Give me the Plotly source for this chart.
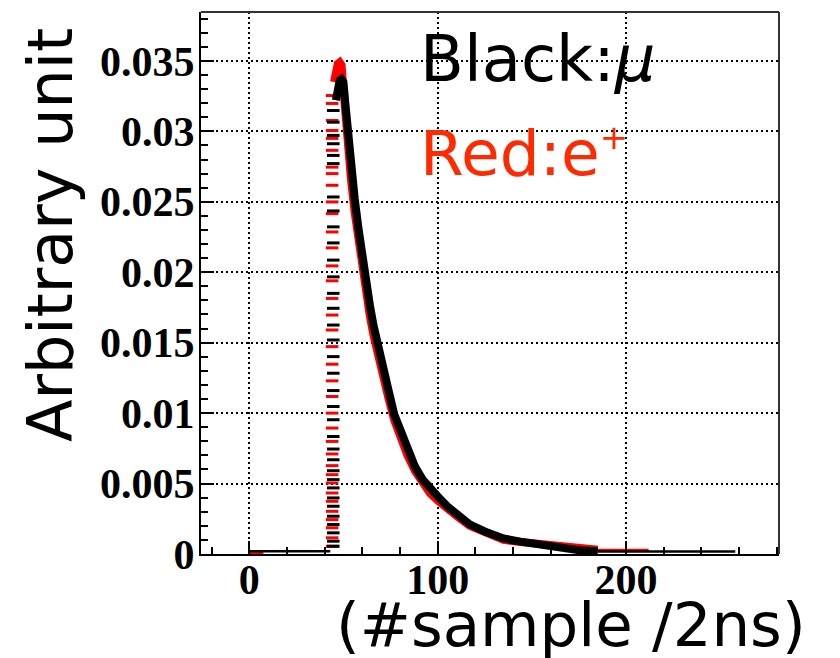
import plotly.graph_objects as go

# ---- averaged pulse shapes (arbitrary units) vs. sample number ----
# leading edge: both pulses rise within a single sample
rise_sample_mu = 44.6
rise_sample_e = 44.0
rise_mu = [0.00055, 0.00091, 0.00150, 0.00209, 0.00268, 0.00339, 0.00398, 0.00469,
           0.00528, 0.00591, 0.00669, 0.00745, 0.00834, 0.00953, 0.01047, 0.01160,
           0.01283, 0.01401, 0.01519, 0.01625, 0.01744, 0.01850, 0.01967, 0.02086,
           0.02208, 0.02322, 0.02435, 0.02534, 0.02771, 0.02829, 0.02912, 0.02971,
           0.03065, 0.03148]
rise_e = [0.00055, 0.00115, 0.00186, 0.00244, 0.00303, 0.00374, 0.00433, 0.00504,
          0.00563, 0.00627, 0.00710, 0.00799, 0.00894, 0.01000, 0.01118, 0.01229,
          0.01347, 0.01472, 0.01590, 0.01696, 0.01814, 0.01939, 0.02045, 0.02173,
          0.02286, 0.02416, 0.02499, 0.02617, 0.02700, 0.02746, 0.02865, 0.02950,
          0.03006, 0.03077, 0.03198, 0.03254]

# peak and decay
decay_x_mu = [46, 47, 48, 49, 50, 51, 52, 53, 54, 56, 58, 60, 62, 64, 66, 68, 70, 72, 74,
              77, 80, 84, 88, 92, 96, 100, 105, 110, 117, 125, 135, 144, 150, 157, 163,
              168, 175, 185]
decay_mu = [0.0322, 0.0331, 0.0336, 0.0337, 0.0335, 0.0320, 0.0303, 0.0290, 0.0278,
            0.0252, 0.0231, 0.0211, 0.0193, 0.0177, 0.0162, 0.0149, 0.0137, 0.0126,
            0.0116, 0.0099, 0.0088, 0.0074, 0.0062, 0.0053, 0.0046, 0.0041, 0.0034,
            0.0029, 0.0021, 0.0016, 0.0011, 0.00088, 0.00076, 0.00066, 0.00048,
            0.00038, 0.00027, 0.00019]
decay_x_e = [45, 46, 47, 48, 49, 50, 51, 52, 54, 56, 58, 60, 62, 64, 66, 68, 70, 72, 74,
             77, 80, 84, 88, 92, 96, 100, 105, 110, 117, 125, 135, 144, 150, 157, 163,
             168, 175, 185]
decay_e = [0.0335, 0.0344, 0.0348, 0.0349, 0.0347, 0.0330, 0.0310, 0.0294, 0.0266,
           0.0242, 0.0221, 0.0202, 0.0185, 0.0169, 0.0155, 0.0142, 0.0130, 0.0120,
           0.0110, 0.0095, 0.0083, 0.0070, 0.0059, 0.0050, 0.0043, 0.0038, 0.0032,
           0.0027, 0.0020, 0.0015, 0.0010, 0.00085, 0.00078, 0.00070, 0.00055,
           0.00045, 0.00038, 0.00030]

# pedestal before the pulse and the far tail
base_x_mu = [0, 43]
base_mu = [0.0002, 0.0002]
tail_x_mu = [185, 258]
tail_mu = [0.00018, 0.00018]
base_x_e = [0, 7.5]
base_e = [0.00005, 0.00005]
tail_x_e = [185, 212]
tail_e = [0.00028, 0.00028]

x_ticks = [0, 100, 200]
x_tick_text = ["0", "100", "200"]
y_ticks = [0, 0.005, 0.01, 0.015, 0.02, 0.025, 0.03, 0.035]
y_tick_text = ["0", "0.005", "0.01", "0.015", "0.02", "0.025", "0.03", "0.035"]

BLACK = "#000000"
RED = "#ff0000"
TEXT_RED = "#ff2a00"

W, H = 840, 658
L, R, T, B = 201, 61, 12, 104


def px(xp, yp):
    """pixel position -> paper coordinates"""
    return (xp - L) / (W - L - R), (H - B - yp) / (H - T - B)


fig = go.Figure()


def add_pulse(rx, ry, dx, dy, bx, by, tx, ty, color):
    fig.add_trace(go.Scatter(x=bx, y=by, mode="lines",
                             line=dict(color=color, width=2.5), hoverinfo="skip"))
    fig.add_trace(go.Scatter(x=tx, y=ty, mode="lines",
                             line=dict(color=color, width=2.5), hoverinfo="skip"))
    fig.add_trace(go.Scatter(x=[rx] * len(ry), y=ry, mode="markers",
                             marker=dict(symbol="line-ew", size=9,
                                         line=dict(color=color, width=3)),
                             hoverinfo="skip"))
    fig.add_trace(go.Scatter(x=dx, y=dy, mode="lines",
                             line=dict(color=color, width=8), hoverinfo="skip"))


add_pulse(rise_sample_e, rise_e, decay_x_e, decay_e, base_x_e, base_e,
          tail_x_e, tail_e, RED)
add_pulse(rise_sample_mu, rise_mu, decay_x_mu, decay_mu, base_x_mu, base_mu,
          tail_x_mu, tail_mu, BLACK)

tick_font = dict(family="Liberation Serif", size=42, color="black", weight="bold")
grid = dict(showgrid=True, gridcolor="black", gridwidth=1.5, griddash="1.5px,3.5px")

fig.update_xaxes(range=[-25.6, 281.2], tickvals=x_ticks, ticktext=x_tick_text,
                 ticks="inside", ticklen=13, tickwidth=2, tickcolor="black",
                 minor=dict(ticks="inside", dtick=20, tick0=0, ticklen=7,
                            tickwidth=2, tickcolor="black", showgrid=False),
                 showline=True, linecolor="black", linewidth=2, zeroline=False,
                 tickfont=tick_font, ticklabelstandoff=-12, **grid)
fig.update_yaxes(range=[0, 0.03847], tickvals=y_ticks, ticktext=y_tick_text,
                 ticks="inside", ticklen=13, tickwidth=2, tickcolor="black",
                 minor=dict(ticks="inside", dtick=0.001, tick0=0, ticklen=7,
                            tickwidth=2, tickcolor="black", showgrid=False),
                 showline=True, linecolor="black", linewidth=2, zeroline=False,
                 tickfont=tick_font, ticklabelstandoff=-4, **grid)

# upper and right frame edges
fig.add_shape(type="line", xref="paper", yref="paper", x0=0, x1=1, y0=1, y1=1,
              line=dict(color="#333333", width=2))
fig.add_shape(type="line", xref="paper", yref="paper", x0=1, x1=1, y0=0, y1=1,
              line=dict(color="#333333", width=2))

ann = []
x0, y0 = px(50, 235)
ann.append(dict(text="Arbitrary unit", x=x0, y=y0, textangle=-90, xanchor="center",
                yanchor="middle", font=dict(family="DejaVu Sans", size=62, color="black")))
x0, y0 = px(808, 624)
ann.append(dict(text="(#sample /2ns)", x=x0, y=y0, xanchor="right",
                yanchor="middle", font=dict(family="DejaVu Sans", size=61, color="black")))
x0, y0 = px(418, 59)
ann.append(dict(text="Black:<i>μ</i>", x=x0, y=y0, xanchor="left",
                yanchor="middle", font=dict(family="DejaVu Sans", size=64, color="black")))
x0, y0 = px(418, 153)
ann.append(dict(text="Red:e<sup><span style='font-size:34px'>+</span></sup>", x=x0, y=y0,
                xanchor="left", yanchor="middle",
                font=dict(family="DejaVu Sans", size=63, color=TEXT_RED)))
for a in ann:
    a.update(xref="paper", yref="paper", showarrow=False)

fig.update_layout(width=W, height=H, margin=dict(l=L, r=R, t=T, b=B),
                  paper_bgcolor="white", plot_bgcolor="white", showlegend=False,
                  annotations=ann)

fig.write_html("out.html")
